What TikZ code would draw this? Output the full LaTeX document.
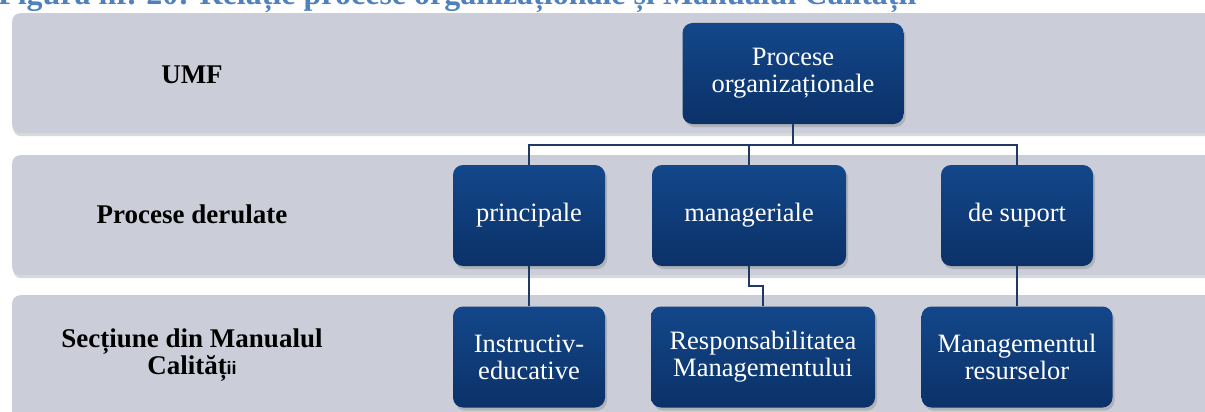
\documentclass[tikz,border=0pt]{standalone}
\usepackage{fontspec}
\setmainfont{Liberation Serif}
\newfontfamily\iifont{Liberation Sans}
\usepackage{tikz}
\usetikzlibrary{positioning,shadows}
\definecolor{bandgray}{RGB}{203,206,216}
\definecolor{boxtop}{RGB}{19,71,138}
\definecolor{boxbot}{RGB}{11,49,104}
\definecolor{linkblue}{RGB}{31,56,100}
\definecolor{titleblue}{RGB}{79,129,189}
\tikzset{
  band/.style={fill=bandgray, rounded corners=8pt, minimum height=120pt, anchor=north west,
    drop shadow={shadow xshift=1pt, shadow yshift=-3pt, opacity=0.3}},
  rowlabel/.style={font=\bfseries\fontsize{27}{26.5}\selectfont, align=center, text=black},
  procbox/.style={rounded corners=10pt, top color=boxtop, bottom color=boxbot, text=white,
    minimum height=101pt, align=center, inner sep=2pt, font=\fontsize{26.5}{27}\selectfont,
    drop shadow={shadow xshift=2pt, shadow yshift=-3pt, opacity=0.35}},
  link/.style={draw=linkblue, line width=1.6pt}
}

\begin{document}
\begin{tikzpicture}[x=1pt, y=-1pt]
  \useasboundingbox (0,0) rectangle (1205,412);
  \clip (0,0) rectangle (1205,412);
  % title, cut off at the top
  \node[anchor=base west, inner sep=0pt, text=titleblue, font=\bfseries\fontsize{32}{32}\selectfont] (title) at (-2,5)
    {Figura nr. 20: Relație procese organizaționale și Manualul Calității};
  % bands
  \node[band, minimum width=1215pt] (band1) at (12,13) {};
  \node[band, minimum width=1215pt] (band2) at (12,155) {};
  \node[band, minimum width=1215pt, minimum height=130pt] (band3) at (12,295) {};
  \node[rowlabel] (lab1) at (192,75) {UMF};
  \node[rowlabel] (lab2) at (192,214) {Procese derulate};
  \node[rowlabel] (lab3) at (192,355) {Secțiune din Manualul\\Calităț{\iifont\fontsize{18}{18}\selectfont ii}};
  % boxes
  \node[procbox, minimum width=221pt] (org) at (793,73.5) {Procese\\organizaționale};
  \node[procbox, minimum width=152pt] (princ) at (529,215.5) {principale};
  \node[procbox, minimum width=194pt] (mgr) at (749,215.5) {manageriale};
  \node[procbox, minimum width=152pt] (sup) at (1017,215.5) {de suport};
  \node[procbox, minimum width=152pt] (instr) at (529,357) {Instructiv-\\educative};
  \node[procbox, minimum width=224pt] (resp) at (763,357) {Responsabilitatea\\Managementului};
  \node[procbox, minimum width=191pt] (res) at (1017,357) {Managementul\\resurselor};
  % connectors
  \coordinate (bus) at (793,145);
  \coordinate (jog) at (749,286);
  \draw[link] (org.south) -- (bus) -| (princ.north);
  \draw[link] (bus) -| (mgr.north);
  \draw[link] (bus) -| (sup.north);
  \draw[link] (princ.south) -- (instr.north);
  \draw[link] (mgr.south) -- (jog) -| (resp.north);
  \draw[link] (sup.south) -- (res.north);
\end{tikzpicture}
\end{document}
